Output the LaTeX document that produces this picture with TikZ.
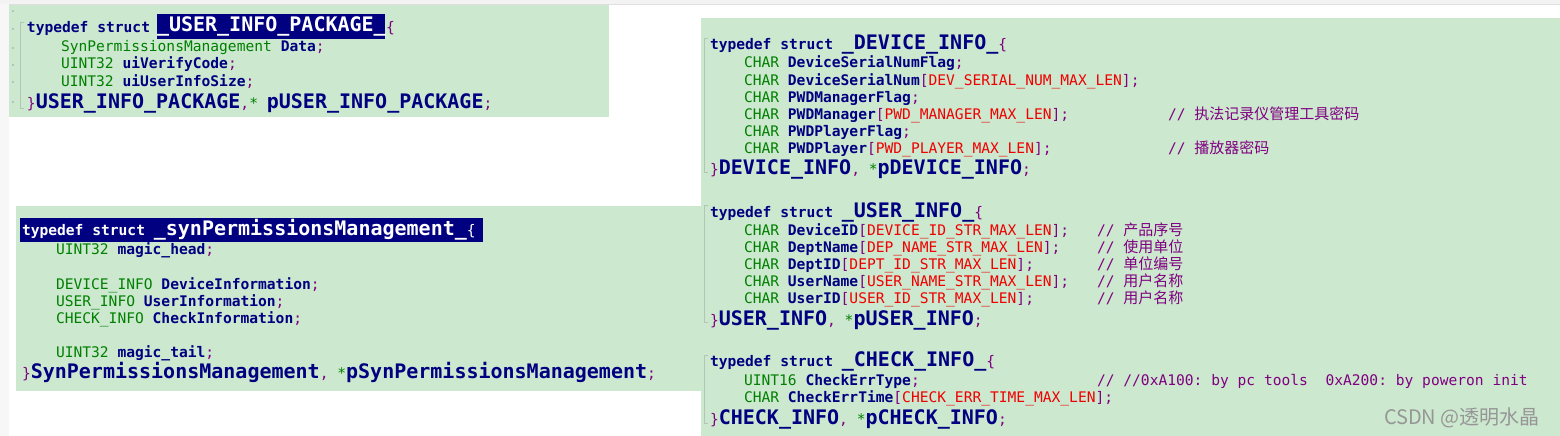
\documentclass[tikz,border=0pt]{standalone}
\usepackage{fontspec}
\newfontfamily\codefont{DejaVu Sans Mono}
\newfontfamily\cjkfont{Noto Sans CJK SC}
\definecolor{bgreen}{RGB}{204,232,207}
\definecolor{navy}{RGB}{0,0,128}
\definecolor{tgreen}{RGB}{0,128,0}
\definecolor{cred}{RGB}{240,0,0}
\definecolor{purp}{RGB}{128,0,128}
\definecolor{gutter}{RGB}{247,247,247}
\definecolor{topband}{RGB}{243,243,243}
\definecolor{foldline}{RGB}{180,196,182}
\definecolor{wmark}{RGB}{150,150,150}
\newcommand\sm{\codefont\mdseries\fontsize{14.6}{17}\selectfont}
\newcommand\bgf{\codefont\bfseries\fontsize{20}{24}\selectfont}
\newcommand\Ty[1]{{\color{tgreen}\sm #1}}
\newcommand\Id[1]{{\color{navy}\sm\bfseries #1}}
\newcommand\Cn[1]{{\color{cred}\sm #1}}
\newcommand\Pu[1]{{\color{purp}\sm #1}}
\newcommand\Bg[1]{{\color{navy}\bgf #1}}
\newcommand\Cm[1]{{\color{purp}\sm //\ \cjkfont\fontsize{15}{17}\selectfont #1}}
\tikzset{code/.style={anchor=base west, inner sep=0pt, outer sep=0pt, font=\sm}}
\begin{document}
\begin{tikzpicture}[x=1pt,y=-1pt]
\useasboundingbox (0,0) rectangle (1560,436);
% background strips
\fill[white] (0,0) rectangle (1560,436);
\fill[topband] (0,0) rectangle (1560,4);
\draw[gray!25] (0,4.5) -- (1560,4.5);
\fill[gutter] (0,4.5) rectangle (9,436);
% boxes
\fill[bgreen] (9,5) rectangle (609,117);
\fill[bgreen] (16,206) rectangle (701,391);
\fill[bgreen] (701,18) rectangle (1560,436);
% fold guides
\draw[foldline, line width=0.8pt] (24,22) -- (20,22) -- (20,108) -- (24,108);
\draw[foldline, line width=0.8pt] (708,38) -- (704,38) -- (704,172) -- (708,172);
\draw[foldline, line width=0.8pt] (708,205) -- (704,205) -- (704,322) -- (708,322);
\draw[foldline, line width=0.8pt] (708,355) -- (704,355) -- (704,423) -- (708,423);
\foreach \yy in {10,28,47,64,81,101} \fill[foldline] (12,\yy) rectangle (13.5,\yy+2);

% ===== Box 1: USER_INFO_PACKAGE =====
\fill[navy] (157,14) rectangle (385,39);
\node[code] (a1) at (27,33) {\Id{typedef struct}};
\node[code] (a1h) at (157,32) {\color{white}\bgf \_USER\_INFO\_PACKAGE\_};
\node[code] (a1b) at (386,33) {\Pu{\{}};
\node[code] (a2) at (61,52) {\Ty{SynPermissionsManagement} \Id{Data}\Pu{;}};
\node[code] (a3) at (61,69) {\Ty{UINT32} \Id{uiVerifyCode}\Pu{;}};
\node[code] (a4) at (61,86) {\Ty{UINT32} \Id{uiUserInfoSize}\Pu{;}};
\node[code] (a5) at (27,108) {\Pu{\}}\Bg{USER\_INFO\_PACKAGE}\Pu{,}\Ty{*}\Ty{\ }\Bg{pUSER\_INFO\_PACKAGE}\Pu{;}};

% ===== Box 2: synPermissionsManagement =====
\fill[navy] (20,218) rectangle (483,242);
\node[code] (b1) at (22,235) {\color{white}\sm\bfseries typedef struct \bgf\_synPermissionsManagement\_\sm\{};
\node[code] (b2) at (56,254) {\Ty{UINT32} \Id{magic\_head}\Pu{;}};
\node[code] (b4) at (56,289) {\Ty{DEVICE\_INFO} \Id{DeviceInformation}\Pu{;}};
\node[code] (b5) at (56,306) {\Ty{USER\_INFO} \Id{UserInformation}\Pu{;}};
\node[code] (b6) at (56,323) {\Ty{CHECK\_INFO} \Id{CheckInformation}\Pu{;}};
\node[code] (b8) at (56,357) {\Ty{UINT32} \Id{magic\_tail}\Pu{;}};
\node[code] (b9) at (22,378) {\Pu{\}}\Bg{SynPermissionsManagement}\Pu{,}\Ty{\ *}\Bg{pSynPermissionsManagement}\Pu{;}};

% ===== Box 3: DEVICE_INFO =====
\node[code] (c1) at (710,50) {\Id{typedef struct }\Bg{\_DEVICE\_INFO\_}\Pu{\{}};
\node[code] (c2) at (744,67) {\Ty{CHAR} \Id{DeviceSerialNumFlag}\Pu{;}};
\node[code] (c3) at (744,85) {\Ty{CHAR} \Id{DeviceSerialNum}\Pu{[}\Cn{DEV\_SERIAL\_NUM\_MAX\_LEN}\Pu{];}};
\node[code] (c4) at (744,102) {\Ty{CHAR} \Id{PWDManagerFlag}\Pu{;}};
\node[code] (c5) at (744,119) {\Ty{CHAR} \Id{PWDManager}\Pu{[}\Cn{PWD\_MANAGER\_MAX\_LEN}\Pu{];}};
\node[code] (c5c) at (1168,119) {\Cm{执法记录仪管理工具密码}};
\node[code] (c6) at (744,136) {\Ty{CHAR} \Id{PWDPlayerFlag}\Pu{;}};
\node[code] (c7) at (744,153) {\Ty{CHAR} \Id{PWDPlayer}\Pu{[}\Cn{PWD\_PLAYER\_MAX\_LEN}\Pu{];}};
\node[code] (c7c) at (1168,153) {\Cm{播放器密码}};
\node[code] (c8) at (710,174) {\Pu{\}}\Bg{DEVICE\_INFO}\Pu{,}\Ty{\ *}\Bg{pDEVICE\_INFO}\Pu{;}};

% ===== USER_INFO =====
\node[code] (d1) at (710,217) {\Id{typedef struct }\Bg{\_USER\_INFO\_}\Pu{\{}};
\node[code] (d2) at (744,235) {\Ty{CHAR} \Id{DeviceID}\Pu{[}\Cn{DEVICE\_ID\_STR\_MAX\_LEN}\Pu{];}};
\node[code] (d2c) at (1097,235) {\Cm{产品序号}};
\node[code] (d3) at (744,252) {\Ty{CHAR} \Id{DeptName}\Pu{[}\Cn{DEP\_NAME\_STR\_MAX\_LEN}\Pu{];}};
\node[code] (d3c) at (1097,252) {\Cm{使用单位}};
\node[code] (d4) at (744,269) {\Ty{CHAR} \Id{DeptID}\Pu{[}\Cn{DEPT\_ID\_STR\_MAX\_LEN}\Pu{];}};
\node[code] (d4c) at (1097,269) {\Cm{单位编号}};
\node[code] (d5) at (744,286) {\Ty{CHAR} \Id{UserName}\Pu{[}\Cn{USER\_NAME\_STR\_MAX\_LEN}\Pu{];}};
\node[code] (d5c) at (1097,286) {\Cm{用户名称}};
\node[code] (d6) at (744,303) {\Ty{CHAR} \Id{UserID}\Pu{[}\Cn{USER\_ID\_STR\_MAX\_LEN}\Pu{];}};
\node[code] (d6c) at (1097,303) {\Cm{用户名称}};
\node[code] (d7) at (710,325) {\Pu{\}}\Bg{USER\_INFO}\Pu{,}\Ty{\ *}\Bg{pUSER\_INFO}\Pu{;}};

% ===== CHECK_INFO =====
\node[code] (e1) at (710,366) {\Id{typedef struct }\Bg{\_CHECK\_INFO\_}\Pu{\{}};
\node[code] (e2) at (744,385) {\Ty{UINT16} \Id{CheckErrType}\Pu{;}};
\node[code] (e2c) at (1097,385) {\color{purp}\sm //\ //0xA100:\ by\ pc\ tools\ \ 0xA200:\ by\ poweron\ init};
\node[code] (e3) at (744,402) {\Ty{CHAR} \Id{CheckErrTime}\Pu{[}\Cn{CHECK\_ERR\_TIME\_MAX\_LEN}\Pu{];}};
\node[code] (e4) at (710,424) {\Pu{\}}\Bg{CHECK\_INFO}\Pu{,}\Ty{\ *}\Bg{pCHECK\_INFO}\Pu{;}};

% watermark
\node[code] (wm) at (1384,424) {\color{wmark}\cjkfont\fontsize{20}{22}\selectfont CSDN @透明水晶};
\end{tikzpicture}
\end{document}
